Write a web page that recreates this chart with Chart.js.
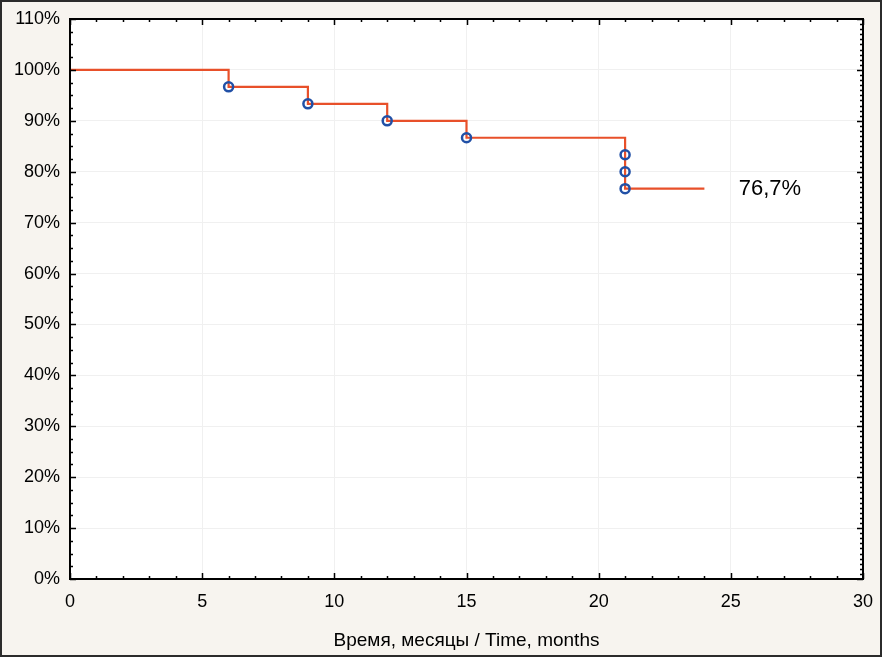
<!DOCTYPE html>
<html>
<head>
<meta charset="utf-8">
<script src="https://cdn.jsdelivr.net/npm/chart.js@4.4.1/dist/chart.umd.min.js"></script>
<style>
  html, body { margin: 0; padding: 0; background: #f7f4ef; }
  #wrap { width: 882px; height: 657px; }
</style>
</head>
<body>
<div id="wrap"><canvas id="km" width="882" height="657"></canvas></div>
<script>
// Kaplan-Meier step curve (months, survival %)
const curveTimes    = [0, 6, 9, 12, 15, 21, 21, 21, 24];
const curveSurvival = [100, 96.67, 93.33, 90, 86.67, 83.33, 80, 76.67, 76.67];

// event markers
const eventTimes    = [6, 9, 12, 15, 21, 21, 21];
const eventSurvival = [96.67, 93.33, 90, 86.67, 83.33, 80, 76.67];

const xTicks = [0, 5, 10, 15, 20, 25, 30];
const yTicks = [0, 10, 20, 30, 40, 50, 60, 70, 80, 90, 100, 110];

const finalLabel = "76,7%";
const finalLabelAt = { x: 25.3, y: 76.67 };

const FONT = "'Liberation Sans', Arial, sans-serif";

const frame = {
  id: "frame",
  beforeDraw(chart){
    const { ctx, width, height } = chart;
    ctx.save();
    ctx.fillStyle = "#f7f4ef";
    ctx.fillRect(0, 0, width, height);
    ctx.strokeStyle = "#2b2b2b";
    ctx.lineWidth = 2;
    ctx.strokeRect(1, 1, width - 2, height - 2);
    const a = chart.chartArea;
    ctx.fillStyle = "#ffffff";
    ctx.fillRect(a.left, a.top, a.right - a.left, a.bottom - a.top);
    ctx.restore();
  },
  afterDraw(chart){
    const { ctx, chartArea: a } = chart;
    const xs = chart.scales.x, ys = chart.scales.y;
    ctx.save();
    ctx.strokeStyle = "#000";
    ctx.lineWidth = 1.5;
    ctx.beginPath();
    // bottom & top: every month
    for(let m = 0; m <= 30; m++){
      const px = Math.round(xs.getPixelForValue(m)) + 0.5;
      const len = m % 5 === 0 ? 6 : 3;
      ctx.moveTo(px, a.bottom); ctx.lineTo(px, a.bottom - len);
      ctx.moveTo(px, a.top);    ctx.lineTo(px, a.top + len);
    }
    // left: every 2.5 %
    for(let v = 0; v <= 110; v += 2.5){
      const py = Math.round(ys.getPixelForValue(v)) + 0.5;
      const len = v % 10 === 0 ? 6 : 3;
      ctx.moveTo(a.left, py); ctx.lineTo(a.left + len, py);
    }
    // right: every 1 %
    for(let v = 0; v <= 110; v += 1){
      const py = Math.round(ys.getPixelForValue(v)) + 0.5;
      const len = v % 10 === 0 ? 6 : 3;
      ctx.moveTo(a.right, py); ctx.lineTo(a.right - len, py);
    }
    ctx.stroke();

    ctx.lineWidth = 2;
    ctx.strokeRect(a.left, a.top, a.right - a.left, a.bottom - a.top);

    ctx.fillStyle = "#000";
    ctx.font = "22px " + FONT;
    ctx.textAlign = "left";
    ctx.textBaseline = "middle";
    ctx.fillText(finalLabel, xs.getPixelForValue(finalLabelAt.x), ys.getPixelForValue(finalLabelAt.y));
    ctx.restore();
  }
};

const gridColor = "#f0f0f0";

new Chart(document.getElementById("km"), {
  type: "scatter",
  data: {
    datasets: [
      {
        label: "events",
        data: eventTimes.map((t, i) => ({ x: t, y: eventSurvival[i] })),
        borderColor: "#2150a6",
        backgroundColor: "rgba(0,0,0,0)",
        borderWidth: 2.5,
        pointRadius: 4.5,
        showLine: false,
        order: 1
      },
      {
        label: "survival",
        data: curveTimes.map((t, i) => ({ x: t, y: curveSurvival[i] })),
        borderColor: "#e8502a",
        borderWidth: 2.2,
        pointRadius: 0,
        showLine: true,
        stepped: true,
        order: 2
      }
    ]
  },
  options: {
    responsive: false,
    animation: false,
    events: [],
    layout: { padding: { left: 0, right: 19, top: 19, bottom: 0 } },
    plugins: { legend: { display: false }, tooltip: { enabled: false } },
    scales: {
      x: {
        type: "linear",
        min: 0, max: 30,
        afterBuildTicks: (s) => { s.ticks = xTicks.map((v) => ({ value: v })); },
        afterFit: (s) => { s.height = 78; s.paddingLeft = 0; s.paddingRight = 0; },
        grid: { color: gridColor, drawTicks: false },
        border: { display: false },
        ticks: { color: "#000", font: { family: FONT, size: 18 }, padding: 12, maxRotation: 0 },
        title: {
          display: true,
          text: "Время, месяцы / Time, months",
          color: "#000",
          font: { family: FONT, size: 19 },
          padding: { top: 0, bottom: 5 }
        }
      },
      y: {
        type: "linear",
        min: 0, max: 110,
        afterBuildTicks: (s) => { s.ticks = yTicks.map((v) => ({ value: v })); },
        afterFit: (s) => { s.width = 70; s.paddingTop = 0; s.paddingBottom = 0; },
        grid: { color: gridColor, drawTicks: false },
        border: { display: false },
        ticks: { color: "#000", font: { family: FONT, size: 18 }, padding: 10, callback: (v) => v + "%" }
      }
    }
  },
  plugins: [frame]
});
</script>
</body>
</html>
